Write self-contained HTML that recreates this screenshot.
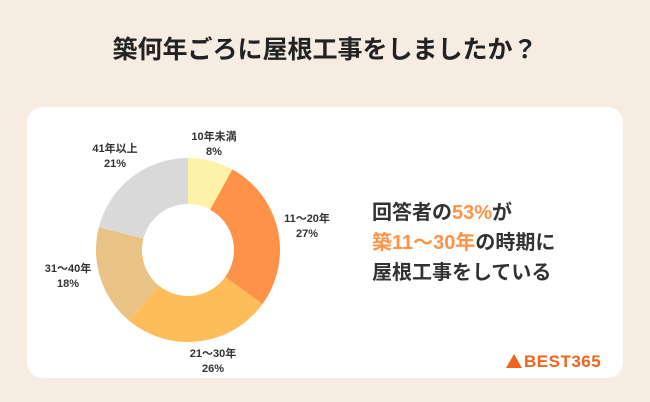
<!DOCTYPE html>
<html><head><meta charset="utf-8"><style>
body{margin:0;width:650px;height:402px;background:#f7ece2;font-family:"Liberation Sans","Noto Sans CJK JP",sans-serif;position:relative;overflow:hidden}
.title{position:absolute;left:0;width:650px;top:30px;text-align:center;font-size:25px;font-weight:bold;color:#222}
.card{position:absolute;left:27px;top:107px;width:596px;height:271px;background:#fff;border-radius:16px}
.msg{position:absolute;left:372px;top:198px;font-size:20px;font-weight:bold;color:#333;line-height:30px}
.hl{color:#ff9245}
.logo{position:absolute;left:506px;top:352px;font-size:17px;font-weight:bold;color:#f0641e;letter-spacing:0.5px}
</style></head><body>
<div class="title">築何年ごろに屋根工事をしましたか？</div>
<div class="card"></div>
<svg width="650" height="402" style="position:absolute;left:0;top:0" id="chart"></svg>
<div class="msg">回答者の<span class="hl">53%</span>が<br><span class="hl">築11〜30年</span>の時期に<br>屋根工事をしている</div>
<div class="logo"><span style="display:inline-block;width:0;height:0;border-left:8px solid transparent;border-right:8px solid transparent;border-bottom:14px solid #f0641e;vertical-align:-1px;margin-right:2px"></span>BEST365</div>
<script>
const categories=["10年未満","11〜20年","21〜30年","31〜40年","41年以上"];
const values=[8,27,26,18,21];
const colors=["#fdf3a8","#ff9249","#ffbd5a","#e9c286","#d9d9d9"];
const labelPos=[[214,140],[307,222],[213,357],[68,272],[115,152]];
const svg=document.getElementById('chart');
const NS="http://www.w3.org/2000/svg";
const cx=188,cy=250,R=92,r=46;
const total=values.reduce((a,b)=>a+b,0);
let a0=-Math.PI/2;
function pt(rad,a){return [cx+rad*Math.cos(a),cy+rad*Math.sin(a)];}
values.forEach((v,i)=>{
  const a1=a0+v/total*2*Math.PI;
  const [x1,y1]=pt(R,a0),[x2,y2]=pt(R,a1),[x3,y3]=pt(r,a1),[x4,y4]=pt(r,a0);
  const lg=(a1-a0)>Math.PI?1:0;
  const p=document.createElementNS(NS,'path');
  p.setAttribute('d',`M${x1},${y1}A${R},${R} 0 ${lg} 1 ${x2},${y2}L${x3},${y3}A${r},${r} 0 ${lg} 0 ${x4},${y4}Z`);
  p.setAttribute('fill',colors[i]);
  
  
  svg.appendChild(p);
  const [lx,ly]=labelPos[i];
  const t=document.createElementNS(NS,'text');
  t.setAttribute('x',lx);t.setAttribute('y',ly);
  t.setAttribute('text-anchor','middle');t.setAttribute('font-size','11');
  t.setAttribute('font-weight','bold');t.setAttribute('fill','#333');
  
  
  const s1=document.createElementNS(NS,'tspan');s1.setAttribute('x',lx);s1.textContent=categories[i];
  const s2=document.createElementNS(NS,'tspan');s2.setAttribute('x',lx);s2.setAttribute('dy','15');s2.textContent=v+'%';
  t.appendChild(s1);t.appendChild(s2);svg.appendChild(t);
  a0=a1;
});
</script>
</body></html>
